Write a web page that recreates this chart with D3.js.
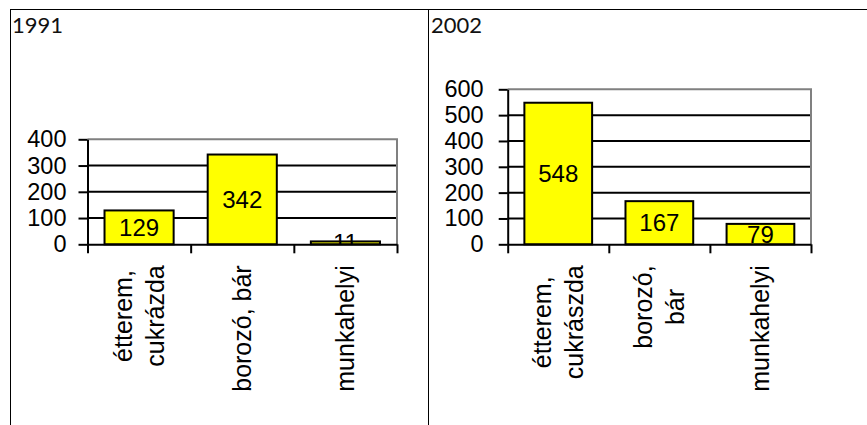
<!DOCTYPE html>
<html>
<head>
<meta charset="utf-8">
<script src="https://cdn.jsdelivr.net/npm/d3@7"></script>
<style>
  body { margin: 0; background: #fff; }
  svg { display: block; }
</style>
</head>
<body>
<svg id="chart"></svg>
<script>
// data
var titles = ["1991", "2002"];
var categories1991 = [["étterem,", "cukrázda"], ["borozó, bár"], ["munkahelyi"]];
var values1991 = [129, 342, 11];
var ticks1991 = [0, 100, 200, 300, 400];
var categories2002 = [["étterem,", "cukrászda"], ["borozó,", "bár"], ["munkahelyi"]];
var values2002 = [548, 167, 79];
var ticks2002 = [0, 100, 200, 300, 400, 500, 600];

var svgWidth = 867,
    svgHeight = 425;

var svg = d3.select("#chart")
    .attr("width", svgWidth)
    .attr("height", svgHeight);

// table borders
svg.append("line").attr("x1", 10).attr("x2", svgWidth).attr("y1", 9.5).attr("y2", 9.5)
    .attr("stroke", "#000").attr("stroke-width", 1);
svg.append("line").attr("x1", 10.5).attr("x2", 10.5).attr("y1", 9).attr("y2", svgHeight)
    .attr("stroke", "#000").attr("stroke-width", 1);
svg.append("line").attr("x1", 428.5).attr("x2", 428.5).attr("y1", 9).attr("y2", svgHeight)
    .attr("stroke", "#000").attr("stroke-width", 1);

var font = "'Liberation Sans', Arial, sans-serif";

function drawChart(opt) {
    var g = svg.append("g");

    g.append("text")
        .attr("x", opt.titleX)
        .attr("y", 33)
        .attr("font-family", "Lato, 'DejaVu Sans', sans-serif")
        .attr("font-size", 22)
        .attr("fill", "#111")
        .text(opt.title);

    var x = d3.scaleBand()
        .domain(d3.range(opt.values.length))
        .range([opt.left, opt.right])
        .paddingInner(0.33)
        .paddingOuter(0.165);

    var xEdges = d3.scaleLinear()
        .domain([0, opt.values.length])
        .range([opt.left, opt.right]);

    var y = d3.scaleLinear()
        .domain([0, d3.max(opt.ticks)])
        .range([opt.bottom, opt.top]);

    // gridlines
    g.selectAll("line.grid")
        .data(opt.ticks.slice(1, -1))
        .enter()
        .append("line")
        .attr("class", "grid")
        .attr("x1", opt.left).attr("x2", opt.right)
        .attr("y1", function(d) { return y(d); })
        .attr("y2", function(d) { return y(d); })
        .attr("stroke", "#000")
        .attr("stroke-width", 2);

    // grey top and right of the plot area
    g.append("path")
        .attr("d", "M" + opt.left + "," + opt.top + "H" + opt.right + "V" + opt.bottom)
        .attr("fill", "none")
        .attr("stroke", "#808080")
        .attr("stroke-width", 2);

    var clipId = "clip" + opt.title;
    svg.append("clipPath").attr("id", clipId)
        .append("rect")
        .attr("x", opt.left).attr("y", opt.top)
        .attr("width", opt.right - opt.left)
        .attr("height", opt.bottom - opt.top);

    g.selectAll("rect.bar")
        .data(opt.values)
        .enter()
        .append("rect")
        .attr("class", "bar")
        .attr("x", function(d, i) { return x(i); })
        .attr("y", function(d) { return y(d); })
        .attr("width", x.bandwidth())
        .attr("height", function(d) { return opt.bottom - y(d); })
        .attr("fill", "#ffff00")
        .attr("stroke", "#000")
        .attr("stroke-width", 2);

    g.append("g")
        .attr("clip-path", "url(#" + clipId + ")")
        .selectAll("text")
        .data(opt.values)
        .enter()
        .append("text")
        .attr("x", function(d, i) { return x(i) + x.bandwidth() / 2; })
        .attr("y", function(d) { return (y(d) + opt.bottom) / 2; })
        .attr("dy", "0.36em")
        .attr("text-anchor", "middle")
        .attr("font-family", font)
        .attr("font-size", 24)
        .attr("fill", "#000")
        .text(function(d) { return d; });

    // y axis
    var yAxis = g.append("g")
        .attr("transform", "translate(" + opt.left + ",0)")
        .call(d3.axisLeft(y).tickValues(opt.ticks).tickSize(9).tickPadding(opt.tickPad).tickSizeOuter(0));
    yAxis.selectAll("path, line").attr("stroke", "#000").attr("stroke-width", 2);
    yAxis.selectAll("text")
        .attr("font-family", font)
        .attr("font-size", 23.5)
        .attr("fill", "#000");

    // x axis with ticks between categories
    var xAxis = g.append("g")
        .attr("transform", "translate(0," + opt.bottom + ")")
        .call(d3.axisBottom(xEdges).tickValues(d3.range(opt.values.length + 1)).tickSize(9).tickSizeOuter(0).tickFormat(""));
    xAxis.selectAll("path, line").attr("stroke", "#000").attr("stroke-width", 2);

    // rotated category labels
    var lineGap = 32;
    opt.categories.forEach(function(lines, i) {
        var lg = g.append("g")
            .attr("transform", "translate(" + (x(i) + x.bandwidth() / 2) + "," + (opt.bottom + 21) + ") rotate(-90)");
        var t = lg.append("text")
            .attr("text-anchor", "middle")
            .attr("font-family", font)
            .attr("font-size", 25)
            .attr("fill", "#000");
        var spans = t.selectAll("tspan")
            .data(lines)
            .enter()
            .append("tspan")
            .attr("y", function(d, j) { return (j - (lines.length - 1) / 2) * lineGap + 8.5; })
            .text(function(d) { return d; });
        var maxLen = 0;
        spans.each(function() { maxLen = Math.max(maxLen, this.getComputedTextLength()); });
        spans.attr("x", -maxLen / 2);
    });
}

drawChart({
    title: titles[0], titleX: 12,
    categories: categories1991, values: values1991, ticks: ticks1991,
    left: 87.5, right: 397, top: 139.3, bottom: 244.3, tickPad: 12
});

drawChart({
    title: titles[1], titleX: 431,
    categories: categories2002, values: values2002, ticks: ticks2002,
    left: 507.7, right: 811, top: 89.3, bottom: 244.3, tickPad: 15
});
</script>
</body>
</html>
